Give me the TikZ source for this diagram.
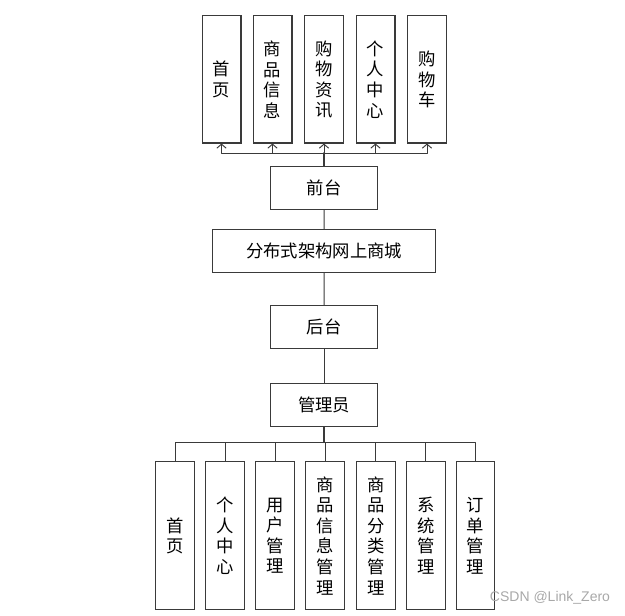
\documentclass[tikz,border=0pt]{standalone}
\usepackage{fontspec}
\setmainfont{Noto Sans CJK SC}
\newfontfamily\wmfont{Liberation Sans}
\usetikzlibrary{arrows.meta, calc}
\definecolor{ink}{HTML}{3A3A3A}
\definecolor{wmgray}{HTML}{A8A8A8}
\tikzset{
  box/.style={draw=ink, line width=0.8pt, inner sep=0pt, align=center,
    font=\fontsize{13}{15.4}\selectfont},
  hbox/.style={box, minimum width=80.3pt, minimum height=32pt},
  topbox/.style={box, minimum width=29.2pt, minimum height=95.3pt, text width=20pt},
  botbox/.style={box, minimum width=28.9pt, minimum height=111.2pt, text width=20pt},
  lnk/.style={draw=ink, line width=0.7pt, line cap=round, line join=round},
  up/.style={lnk, -{Straight Barb[length=3pt, width=7pt, line width=0.7pt]}}
}
\begin{document}
\begin{tikzpicture}[x=0.75pt, y=-0.75pt]
  \useasboundingbox (0,0) rectangle (625,616);
  % middle column
  \node[hbox] (qt) at (324,188) {前台};
  \node[box, minimum width=167.3pt, minimum height=32pt] (sys) at (324.2,251.3) {分布式架构网上商城};
  \node[hbox] (ht) at (324,327) {后台};
  \node[hbox] (adm) at (324,405) {管理员};
  \draw[lnk] (qt) -- (sys);
  \draw[lnk] (sys) -- (ht);
  \draw[lnk] (ht) -- (adm);
  % front end pages
  \foreach \i/\x/\t in {1/221.5/首\\页, 2/272.5/商\\品\\信\\息, 3/324/购\\物\\资\\讯,
                        4/375.5/个\\人\\中\\心, 5/427/购\\物\\车}{
     \node[topbox] (f\i) at (\x,79.5) {\t};}
  \coordinate (fbus) at (324,153);
  \draw[lnk, line width=1.2pt] (qt.north) -- (fbus);
  \foreach \i in {1,...,5}{\draw[up] (fbus) -| (f\i.south);}
  % admin pages
  \foreach \i/\x/\t in {1/175/首\\页, 2/225/个\\人\\中\\心, 3/275.2/用\\户\\管\\理,
                        4/325.2/商\\品\\信\\息\\管\\理, 5/375.8/商\\品\\分\\类\\管\\理,
                        6/425.8/系\\统\\管\\理, 7/475.5/订\\单\\管\\理}{
     \node[botbox] (b\i) at (\x,535.8) {\t};}
  \coordinate (bbus) at (324,442.3);
  \draw[lnk, line width=1.2pt] (adm.south) -- (bbus);
  \foreach \i in {1,...,7}{\draw[lnk] (bbus) -| (b\i.north);}
  % watermark
  \node[text=wmgray, font=\wmfont\fontsize{10.5}{12}\selectfont, inner sep=0pt] (wm) at (550,598) {CSDN @Link\_Zero};
\end{tikzpicture}
\end{document}
